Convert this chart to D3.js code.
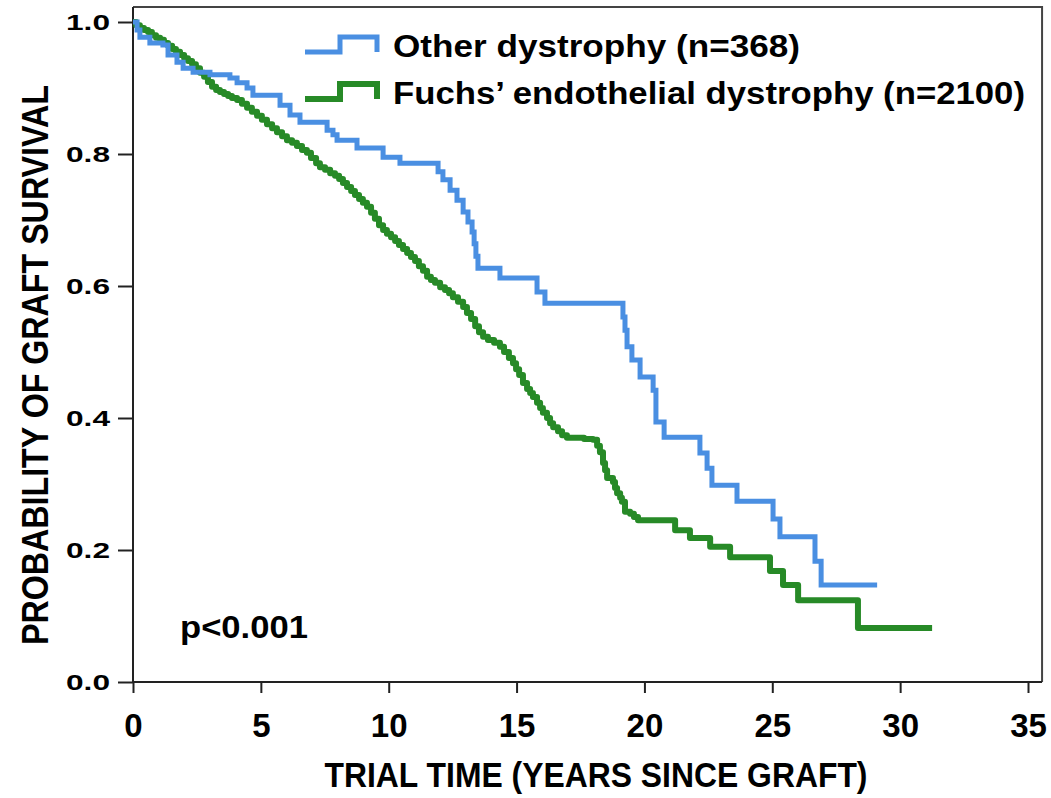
<!DOCTYPE html>
<html>
<head>
<meta charset="utf-8">
<script src="https://cdn.jsdelivr.net/npm/d3@7"></script>
<style>
  html, body { margin: 0; padding: 0; background: #fff; }
  svg { display: block; }
  text { font-family: "Liberation Sans", Arial, sans-serif; font-weight: bold; fill: #000; }
</style>
</head>
<body>
<svg id="chart" width="1051" height="798"></svg>
<script>
// Kaplan–Meier estimates: time in years, survival probability after each event
const otherTimes = [0, 0.16, 0.27, 0.66, 1.17, 1.37, 1.72, 1.96, 2.35, 3.01, 3.79, 4.07, 4.46, 4.69,
  5.75, 6.14, 6.53, 7.59, 7.82, 7.98, 8.76, 9.78, 10.44, 11.93, 12.12, 12.40, 12.67, 12.91, 13.10,
  13.26, 13.34, 13.41, 13.49, 14.35, 15.80, 16.11, 19.16, 19.24, 19.32, 19.51, 19.83, 20.34, 20.45,
  20.77, 22.17, 22.45, 22.64, 23.62, 25.03, 25.30, 26.67, 26.91, 29.10];
const otherSurv = [1.000, 0.988, 0.977, 0.968, 0.965, 0.950, 0.939, 0.930, 0.924, 0.920, 0.915, 0.908,
  0.900, 0.889, 0.874, 0.859, 0.848, 0.836, 0.829, 0.821, 0.809, 0.795, 0.786, 0.773, 0.761, 0.745,
  0.730, 0.712, 0.697, 0.682, 0.664, 0.645, 0.627, 0.612, 0.591, 0.574, 0.553, 0.533, 0.508, 0.488,
  0.462, 0.442, 0.394, 0.371, 0.347, 0.324, 0.298, 0.274, 0.247, 0.220, 0.183, 0.147, 0.147];

const fuchsTimes = [0, 0.12, 0.27, 0.43, 0.59, 0.74, 0.90, 1.06, 1.21, 1.37, 1.53, 1.68, 1.84, 2.00,
  2.15, 2.31, 2.46, 2.62, 2.78, 2.93, 3.09, 3.25, 3.40, 3.56, 3.72, 3.87, 4.07, 4.26, 4.46, 4.65,
  4.85, 5.04, 5.24, 5.44, 5.63, 5.83, 6.02, 6.22, 6.41, 6.61, 6.80, 6.96, 7.16, 7.31, 7.51, 7.71,
  7.90, 8.06, 8.21, 8.37, 8.53, 8.68, 8.84, 8.99, 9.15, 9.31, 9.46, 9.62, 9.78, 9.93, 10.09, 10.25,
  10.40, 10.56, 10.72, 10.87, 11.03, 11.18, 11.34, 11.50, 11.65, 11.81, 12.01, 12.20, 12.36, 12.51,
  12.71, 12.91, 13.06, 13.22, 13.38, 13.53, 13.69, 13.88, 14.12, 14.35, 14.51, 14.70, 14.86, 14.98,
  15.10, 15.25, 15.41, 15.53, 15.64, 15.80, 15.92, 16.03, 16.19, 16.31, 16.43, 16.62, 16.78, 16.97,
  17.64, 17.99, 18.15, 18.26, 18.38, 18.46, 18.54, 18.77, 18.85, 18.93, 19.05, 19.12, 19.24, 19.44,
  19.59, 19.75, 21.20, 21.78, 22.57, 23.35, 24.91, 25.42, 26.01, 28.35, 31.25];
const fuchsSurv = [1.000, 0.995, 0.991, 0.988, 0.985, 0.980, 0.976, 0.973, 0.968, 0.964, 0.959, 0.955,
  0.950, 0.945, 0.941, 0.936, 0.930, 0.923, 0.917, 0.909, 0.902, 0.897, 0.894, 0.891, 0.888, 0.885,
  0.882, 0.876, 0.870, 0.864, 0.858, 0.852, 0.845, 0.839, 0.833, 0.827, 0.821, 0.817, 0.812, 0.806,
  0.802, 0.794, 0.786, 0.780, 0.776, 0.771, 0.767, 0.762, 0.756, 0.750, 0.744, 0.738, 0.732, 0.726,
  0.720, 0.711, 0.702, 0.692, 0.685, 0.679, 0.674, 0.668, 0.662, 0.656, 0.650, 0.644, 0.638, 0.630,
  0.623, 0.614, 0.609, 0.605, 0.598, 0.594, 0.589, 0.583, 0.576, 0.568, 0.559, 0.550, 0.539, 0.530,
  0.523, 0.518, 0.514, 0.508, 0.500, 0.491, 0.483, 0.474, 0.465, 0.453, 0.444, 0.438, 0.432, 0.423,
  0.415, 0.408, 0.400, 0.392, 0.386, 0.380, 0.374, 0.370, 0.368, 0.367, 0.358, 0.348, 0.332, 0.321,
  0.309, 0.303, 0.294, 0.286, 0.279, 0.273, 0.258, 0.255, 0.250, 0.245, 0.230, 0.218, 0.205, 0.189,
  0.168, 0.147, 0.124, 0.082, 0.082];

const seriesNames = ["Other dystrophy (n=368)", "Fuchs\u2019 endothelial dystrophy (n=2100)"];
const seriesColors = ["#4A8FE2", "#278A27"];
const xTicks = [0, 5, 10, 15, 20, 25, 30, 35];
const yTicks = [0, 0.2, 0.4, 0.6, 0.8, 1.0];
const xTitle = "TRIAL TIME (YEARS SINCE GRAFT)";
const yTitle = "PROBABILITY OF GRAFT SURVIVAL";
const pLabel = "p<0.001";

const svg = d3.select("#chart");
const x = d3.scaleLinear().domain([0, 35]).range([133, 1028]);
const y = d3.scaleLinear().domain([0, 1]).range([682, 22]);
const frameRight = x(35.55), frameTop = y(1.0227);

// frame (top and right edges)
svg.append("path")
  .attr("d", `M133,${frameTop}H${frameRight}V682`)
  .attr("fill", "none").attr("stroke", "#444").attr("stroke-width", 2);

// axes
const xAxis = svg.append("g").attr("transform", "translate(0,682)")
  .call(d3.axisBottom(x).tickValues(xTicks).tickSize(11).tickSizeOuter(0).tickFormat(d3.format("d")));
xAxis.select(".domain").attr("d", `M133,0H${frameRight}`).attr("stroke", "#222").attr("stroke-width", 2);
xAxis.selectAll(".tick line").attr("stroke", "#222").attr("stroke-width", 2);
xAxis.selectAll(".tick text")
  .attr("y", 55).attr("dy", 0)
  .style("font-family", "'Liberation Sans Narrow', 'Liberation Sans', sans-serif")
  .style("font-size", "33px").style("font-weight", "bold").attr("fill", "#000");

const yAxis = svg.append("g").attr("transform", "translate(133,0)")
  .call(d3.axisLeft(y).tickValues(yTicks).tickSize(15).tickSizeOuter(0).tickFormat(d3.format(".1f")));
yAxis.select(".domain").attr("d", `M0,${frameTop}V682`).attr("stroke", "#222").attr("stroke-width", 2);
yAxis.selectAll(".tick line").attr("stroke", "#222").attr("stroke-width", 2);
yAxis.selectAll(".tick text")
  .attr("x", -23).attr("dy", "0.36em")
  .attr("textLength", 44).attr("lengthAdjust", "spacingAndGlyphs")
  .style("font-family", "'Liberation Sans', Arial, sans-serif")
  .style("font-size", "22px").style("font-weight", "bold").attr("fill", "#000");

// survival curves
const line = d3.line().x(d => x(d[0])).y(d => y(d[1])).curve(d3.curveStepAfter);
const series = [
  d3.zip(otherTimes, otherSurv),
  d3.zip(fuchsTimes, fuchsSurv)
];
svg.append("path").datum(series[1]).attr("d", line)
  .attr("fill", "none").attr("stroke", seriesColors[1]).attr("stroke-width", 6)
  .attr("stroke-linejoin", "round");
svg.append("path").datum(series[0]).attr("d", line)
  .attr("fill", "none").attr("stroke", seriesColors[0]).attr("stroke-width", 5);

// legend
const legend = svg.append("g");
seriesNames.forEach((name, i) => {
  const oy = 52 + i * 47;
  legend.append("path")
    .attr("d", `M305,${oy}H340V${oy - 15}H377V${oy}`)
    .attr("fill", "none").attr("stroke", seriesColors[i]).attr("stroke-width", i ? 6 : 5);
  legend.append("text")
    .attr("x", 393).attr("y", oy + 5)
    .attr("textLength", i ? 632 : 407).attr("lengthAdjust", "spacingAndGlyphs")
    .style("font-size", "31px")
    .text(name);
});

// p-value
svg.append("text").attr("x", 180).attr("y", 638)
  .attr("textLength", 128).attr("lengthAdjust", "spacingAndGlyphs")
  .style("font-size", "31px").text(pLabel);

// axis titles
svg.append("text").attr("x", 596).attr("y", 787)
  .attr("text-anchor", "middle")
  .attr("textLength", 543).attr("lengthAdjust", "spacingAndGlyphs")
  .style("font-family", "'Liberation Sans Narrow', 'Liberation Sans', sans-serif")
  .style("font-size", "35px")
  .text(xTitle);
svg.append("text")
  .attr("transform", "translate(48,365) rotate(-90)")
  .attr("text-anchor", "middle")
  .attr("textLength", 560).attr("lengthAdjust", "spacingAndGlyphs")
  .style("font-family", "'Liberation Sans Narrow', 'Liberation Sans', sans-serif")
  .style("font-size", "36px")
  .text(yTitle);
</script>
</body>
</html>
